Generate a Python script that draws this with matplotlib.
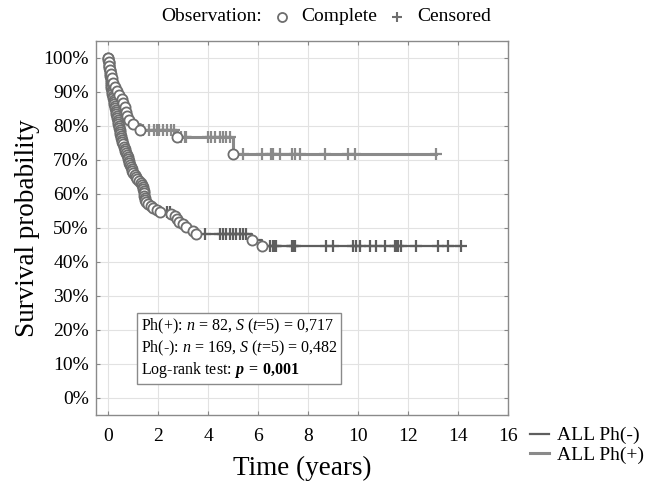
import numpy as np
import matplotlib
matplotlib.use("Agg")
import matplotlib.pyplot as plt
from matplotlib.lines import Line2D

plt.rcParams['font.family'] = 'serif'
plt.rcParams['font.serif'] = ['Liberation Serif', 'DejaVu Serif']
plt.rcParams['mathtext.fontset'] = 'custom'
plt.rcParams['mathtext.rm'] = 'Liberation Serif'
plt.rcParams['mathtext.it'] = 'Liberation Serif:italic'
plt.rcParams['mathtext.bf'] = 'Liberation Serif:bold'
plt.rcParams['mathtext.bfit'] = 'Liberation Serif:italic:bold'

# Kaplan-Meier steps: event times (years) and survival right after each event
neg_event_t = [0.01, 0.02, 0.03, 0.04, 0.05, 0.06, 0.07, 0.08, 0.09, 0.10,
               0.11, 0.115, 0.12, 0.125, 0.13, 0.135,
               0.15, 0.17, 0.19, 0.20, 0.22, 0.23, 0.25, 0.27,
               0.29, 0.30, 0.32, 0.33, 0.35, 0.37, 0.38, 0.40, 0.41,
               0.43, 0.45, 0.46, 0.48, 0.49, 0.51, 0.52, 0.54,
               0.57, 0.60, 0.63, 0.66, 0.69, 0.72,
               0.75, 0.78, 0.80, 0.83, 0.85, 0.87, 0.90,
               0.94, 0.97, 1.00, 1.06, 1.10, 1.14, 1.22, 1.30,
               1.35, 1.38, 1.40, 1.42, 1.43, 1.45, 1.46, 1.47,
               1.53, 1.60, 1.70, 1.80, 1.95, 2.07,
               2.53, 2.67, 2.76, 2.82, 2.98, 3.13, 3.38, 3.53,
               5.74, 6.14]
neg_event_s = [0.994, 0.988, 0.982, 0.976, 0.970, 0.964, 0.959, 0.953, 0.947, 0.941,
               0.935, 0.929, 0.923, 0.917, 0.911, 0.905,
               0.899, 0.893, 0.887, 0.882, 0.876, 0.870, 0.864, 0.858,
               0.852, 0.846, 0.840, 0.834, 0.828, 0.822, 0.816, 0.810, 0.805,
               0.799, 0.793, 0.787, 0.781, 0.775, 0.769, 0.763, 0.757,
               0.751, 0.745, 0.739, 0.733, 0.727, 0.721,
               0.715, 0.709, 0.703, 0.697, 0.691, 0.685, 0.679,
               0.673, 0.667, 0.661, 0.655, 0.649, 0.643, 0.637, 0.631,
               0.625, 0.619, 0.613, 0.607, 0.601, 0.595, 0.589, 0.583,
               0.577, 0.571, 0.565, 0.559, 0.553, 0.547,
               0.541, 0.534, 0.526, 0.518, 0.510, 0.502, 0.490, 0.482,
               0.464, 0.446]
neg_censor_t = [2.34, 2.47, 3.87, 4.47, 4.60, 4.73, 4.87, 5.00, 5.13, 5.27, 5.40, 5.53,
                6.47, 6.60, 6.67, 6.73, 7.34, 7.40, 7.47, 8.73, 9.00, 9.80, 9.93,
                10.07, 10.47, 10.73, 11.07, 11.47, 11.53, 11.60, 11.73, 12.33,
                13.20, 13.60, 14.10]

pos_event_t = [0.02, 0.04, 0.07, 0.11, 0.14, 0.18, 0.27, 0.34, 0.44, 0.54,
               0.58, 0.67, 0.72, 0.76, 0.82, 1.00, 1.27, 2.76, 5.00]
pos_event_s = [0.988, 0.976, 0.963, 0.951, 0.939, 0.927, 0.915, 0.902, 0.890, 0.878,
               0.866, 0.854, 0.841, 0.829, 0.817, 0.804, 0.787, 0.767, 0.717]
pos_censor_t = [1.40, 1.65, 1.85, 1.95, 2.05, 2.20, 2.35, 2.50, 2.62,
                2.90, 3.07, 3.13, 4.00, 4.13, 4.27, 4.47, 4.60, 4.73, 4.87,
                5.40, 6.14, 6.53, 6.60, 6.87, 7.34, 7.47, 7.67, 8.67, 9.60, 9.87, 13.13]

stats_lines = [r"Ph(+): $n$ = 82, $S$ ($t$=5) = 0,717",
               r"Ph(-): $n$ = 169, $S$ ($t$=5) = 0,482",
               r"Log-rank test: $\mathbfit{p}\mathbf{\:=\:0{,}001}$"]

COL_NEG = '#5e5e5e'
COL_POS = '#8a8a8a'
EDGE = '#6e6e6e'


def km_curve(ax, ev_t, ev_s, cens_t, color, lw):
    ev_t = np.asarray(ev_t)
    ev_s = np.asarray(ev_s)
    cens_t = np.asarray(cens_t)
    t_end = max(ev_t.max(), cens_t.max())
    xs = np.concatenate([[0.0], ev_t, [t_end]])
    ys = np.concatenate([[1.0], ev_s, [ev_s[-1]]])
    line, = ax.step(xs, ys, where='post', color=color, lw=lw, zorder=3)
    # survival level at each censoring time
    idx = np.searchsorted(ev_t, cens_t, side='right')
    cens_s = np.concatenate([[1.0], ev_s])[idx]
    ax.plot(cens_t, cens_s, ls='none', marker='+', ms=8, mew=1.6, color=color, zorder=4)
    ax.plot(np.concatenate([[0.0], ev_t]), np.concatenate([[1.0], ev_s]), ls='none',
            marker='o', ms=7.3, mfc='white', mec=EDGE, mew=1.3, zorder=5)
    return line


fig = plt.figure(figsize=(6.48, 4.82), dpi=100)
ax = fig.add_axes([0.1477, 0.139, 0.6363, 0.7766])

l_neg = km_curve(ax, neg_event_t, neg_event_s, neg_censor_t, COL_NEG, 1.6)
l_pos = km_curve(ax, pos_event_t, pos_event_s, pos_censor_t, COL_POS, 2.2)

ax.set_xlim(-0.5, 16)
ax.set_ylim(-0.05, 1.05)
ax.set_xticks(np.arange(0, 17, 2))
ax.set_yticks(np.arange(0, 1.01, 0.1))
ax.set_yticklabels([f"{int(round(v * 100))}%" for v in np.arange(0, 1.01, 0.1)])
ax.grid(True, color='#e2e2e2', lw=0.8, zorder=0)
ax.tick_params(direction='in', length=3, width=0.8, color='#888888', labelsize=14,
               top=True, right=True, labeltop=False, labelright=False)
ax.tick_params(axis='x', pad=9)
ax.tick_params(axis='y', pad=5)
for s in ax.spines.values():
    s.set_color('#8a8a8a')
    s.set_linewidth(1.0)

ax.set_xlabel("Time (years)", fontsize=19.5, labelpad=8)
ax.set_ylabel("Survival probability", fontsize=19.5, labelpad=2)

ax.text(0.109, 0.178, "\n".join(stats_lines), transform=ax.transAxes, fontsize=11.5,
        va='center', ha='left', linespacing=1.2,
        bbox=dict(boxstyle='square,pad=0.25', fc='white', ec='#8a8a8a', lw=1.0), zorder=6)

# observation legend above the plot
fy = 1 - 16.7 / 482
fig.text(262 / 648, fy, "Observation:", ha='right', va='center', fontsize=14)
fig.add_artist(Line2D([282 / 648], [fy], transform=fig.transFigure, marker='o', ms=6.5,
                      mfc='white', mec=EDGE, mew=1.3))
fig.text(301 / 648, fy, "Complete", ha='left', va='center', fontsize=14)
fig.add_artist(Line2D([397 / 648], [fy], transform=fig.transFigure, marker='+', ms=7,
                      mew=1.5, color=EDGE))
fig.text(417 / 648, fy, "Censored", ha='left', va='center', fontsize=14)

fig.legend([l_neg, l_pos], ["ALL Ph(-)", "ALL Ph(+)"], loc='upper left',
           bbox_to_anchor=(522 / 648, 1 - 419 / 482), frameon=False, fontsize=14,
           handlelength=1.0, handletextpad=0.4, labelspacing=0.1, borderaxespad=0)

fig.savefig("out.png", dpi=100)
